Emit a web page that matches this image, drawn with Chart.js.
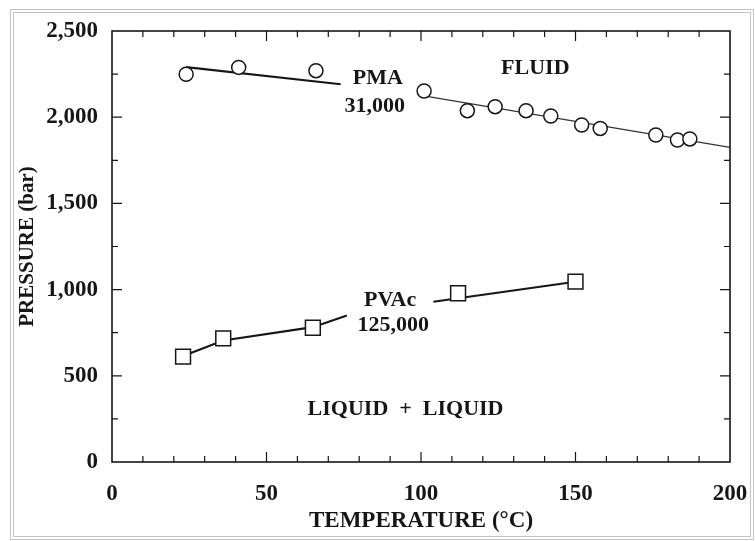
<!DOCTYPE html>
<html>
<head>
<meta charset="utf-8">
<script src="https://cdn.jsdelivr.net/npm/chart.js@4.4.1/dist/chart.umd.min.js"></script>
<style>
  body { margin: 0; background: #fff; }
  #wrap { position: relative; width: 755px; height: 541px; }
  #frame { position: absolute; left: 10px; top: 9px; width: 736px; height: 523px;
           border: 4px double #c4c4c4; pointer-events: none; }
</style>
</head>
<body>
<div id="wrap">
  <canvas id="chart" width="755" height="541"></canvas>
  <div id="frame"></div>
</div>
<script>
// PMA 31,000 cloud points (circles)
const pmaTemp     = [24, 41, 66, 101, 115, 124, 134, 142, 152, 158, 176, 183, 187];
const pmaPressure = [2249, 2289, 2270, 2152, 2038, 2061, 2038, 2007, 1955, 1935, 1897, 1868, 1874];
// PVAc 125,000 cloud points (squares)
const pvacTemp     = [23, 36, 65, 112, 150];
const pvacPressure = [611, 717, 779, 979, 1046];
// hand drawn curves, broken where the labels sit
const pmaLineLowT  = [24, 74];
const pmaLineLowP  = [2290, 2191];
const pmaLineHighT = [99, 200];
const pmaLineHighP = [2129, 1825];
const pvacLineLowT  = [23, 36, 65, 76];
const pvacLineLowP  = [615, 705, 782, 850];
const pvacLineHighT = [104, 150];
const pvacLineHighP = [930, 1046];
// axes
const xTicks = [0, 50, 100, 150, 200];
const yTicks = [0, 500, 1000, 1500, 2000, 2500];

const SERIF = "'Liberation Serif', 'Times New Roman', serif";
const INK = '#161616';

function pts(xs, ys) {
  return xs.map((x, i) => ({ x: x, y: ys[i] }));
}

// text labels placed in data units
const notes = [
  { text: 'PMA',               x: 86,  y: 2227 },
  { text: '31,000',            x: 85,  y: 2065 },
  { text: 'FLUID',             x: 137, y: 2285 },
  { text: 'PVAc',              x: 90,  y: 940 },
  { text: '125,000',           x: 91,  y: 795 },
  { text: 'LIQUID  +  LIQUID', x: 95,  y: 307 }
];

const boxPlugin = {
  id: 'boxPlugin',
  afterDraw(chart) {
    const ctx = chart.ctx;
    const a = chart.chartArea;
    const xs = chart.scales.x, ys = chart.scales.y;
    ctx.save();
    ctx.strokeStyle = INK;
    ctx.lineWidth = 1.6;
    ctx.strokeRect(a.left, a.top, a.right - a.left, a.bottom - a.top);
    ctx.lineWidth = 1.2;
    ctx.beginPath();
    for (let v = 10; v < 200; v += 10) {
      const px = xs.getPixelForValue(v);
      const len = v % 50 === 0 ? 10 : 6;
      ctx.moveTo(px, a.bottom); ctx.lineTo(px, a.bottom - len);
      ctx.moveTo(px, a.top); ctx.lineTo(px, a.top + len);
    }
    for (let v = 250; v < 2500; v += 250) {
      const py = ys.getPixelForValue(v);
      const len = v % 500 === 0 ? 10 : 6;
      ctx.moveTo(a.left, py); ctx.lineTo(a.left + len, py);
      ctx.moveTo(a.right, py); ctx.lineTo(a.right - len, py);
    }
    ctx.stroke();

    ctx.fillStyle = INK;
    ctx.textAlign = 'center';
    ctx.textBaseline = 'middle';
    ctx.font = 'bold 22px ' + SERIF;
    notes.forEach(n => {
      ctx.fillText(n.text, xs.getPixelForValue(n.x), ys.getPixelForValue(n.y));
    });
    ctx.restore();
  }
};

new Chart(document.getElementById('chart'), {
  type: 'scatter',
  data: {
    datasets: [
      {
        data: pts(pmaTemp, pmaPressure),
        pointStyle: 'circle', pointRadius: 7, pointBorderWidth: 1.5,
        pointBackgroundColor: '#fff', pointBorderColor: INK, showLine: false
      },
      {
        data: pts(pvacTemp, pvacPressure),
        pointStyle: 'rect', pointRadius: 10.5, pointBorderWidth: 1.5,
        pointBackgroundColor: '#fff', pointBorderColor: INK, showLine: false
      },
      { data: pts(pmaLineLowT, pmaLineLowP), showLine: true, pointRadius: 0, borderColor: INK, borderWidth: 2.2 },
      { data: pts(pmaLineHighT, pmaLineHighP), showLine: true, pointRadius: 0, borderColor: '#333', borderWidth: 1.2 },
      { data: pts(pvacLineLowT, pvacLineLowP), showLine: true, pointRadius: 0, borderColor: INK, borderWidth: 2.2 },
      { data: pts(pvacLineHighT, pvacLineHighP), showLine: true, pointRadius: 0, borderColor: INK, borderWidth: 2 }
    ]
  },
  options: {
    responsive: false,
    animation: false,
    layout: { padding: { top: 31, right: 25, left: 0, bottom: 0 } },
    plugins: { legend: { display: false }, tooltip: { enabled: false } },
    scales: {
      x: {
        type: 'linear', min: 0, max: 200,
        afterFit(s) { s.height = 79; s.paddingLeft = 0; s.paddingRight = 0; },
        afterBuildTicks(s) { s.ticks = xTicks.map(v => ({ value: v })); },
        grid: { display: false, drawTicks: false },
        border: { display: false },
        ticks: { padding: 18, color: INK, font: { family: SERIF, size: 23, weight: 'bold' } },
        title: {
          display: true, text: 'TEMPERATURE (°C)', color: INK,
          font: { family: SERIF, size: 23, weight: 'bold' },
          padding: { top: 0, bottom: 6 }
        }
      },
      y: {
        type: 'linear', min: 0, max: 2500,
        afterFit(s) { s.width = 112; },
        afterBuildTicks(s) { s.ticks = yTicks.map(v => ({ value: v })); },
        grid: { display: false, drawTicks: false },
        border: { display: false },
        ticks: {
          padding: 14, color: INK, font: { family: SERIF, size: 23, weight: 'bold' },
          callback: v => v.toLocaleString('en-US')
        },
        title: {
          display: true, text: 'PRESSURE (bar)', color: INK,
          font: { family: SERIF, size: 21, weight: 'bold' },
          padding: { top: 15, bottom: 0 }
        }
      }
    }
  },
  plugins: [boxPlugin]
});
</script>
</body>
</html>
